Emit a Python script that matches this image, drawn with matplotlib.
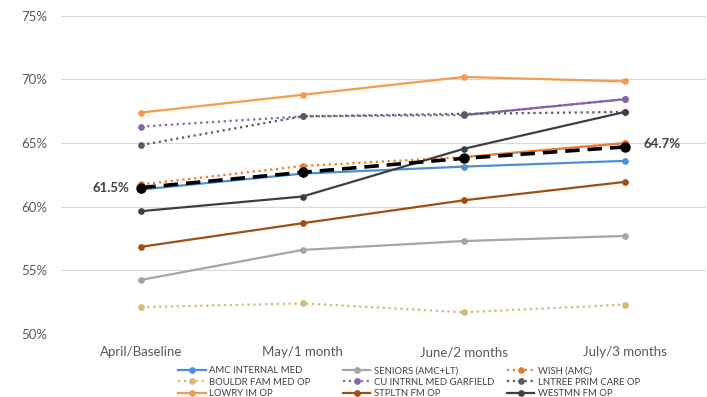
import matplotlib
matplotlib.use("Agg")
import matplotlib.pyplot as plt
from matplotlib.ticker import FuncFormatter

plt.rcParams['font.family'] = ['Lato', 'DejaVu Sans']

# months on the x axis
months = ["April/Baseline", "May/1 month", "June/2 months", "July/3 months"]

# clinic rates (%)
amc_internal_med = [61.35, 62.6, 63.15, 63.6]
seniors = [54.25, 56.6, 57.3, 57.7]
wish = [61.75, 63.2, 63.9, 65.0]
bouldr_fam_med = [52.1, 52.4, 51.7, 52.3]
cu_intrnl_med = [66.3, 67.1, 67.2, 68.45]
lntree_prim_care = [64.85, 67.1, 67.3, 67.45]
lowry_im = [67.4, 68.8, 70.2, 69.85]
stpltn_fm = [56.85, 58.7, 60.5, 61.95]
westmn_fm = [59.65, 60.8, 64.55, 67.45]
average = [61.5, 62.7, 63.8, 64.7]

names = ["AMC INTERNAL MED", "SENIORS (AMC+LT)", "WISH (AMC)",
         "BOULDR FAM MED OP", "CU INTRNL MED GARFIELD", "LNTREE PRIM CARE OP",
         "LOWRY IM OP", "STPLTN FM OP", "WESTMN FM OP"]
series = [amc_internal_med, seniors, wish, bouldr_fam_med, cu_intrnl_med,
          lntree_prim_care, lowry_im, stpltn_fm, westmn_fm]

# colour, line style, last segment drawn solid
styles = {
    "AMC INTERNAL MED": ("#4A8FD8", "-", False),
    "SENIORS (AMC+LT)": ("#A5A5A5", "-", False),
    "WISH (AMC)": ("#EE7B2C", ":", True),
    "BOULDR FAM MED OP": ("#D4B877", ":", False),
    "CU INTRNL MED GARFIELD": ("#8465A8", ":", True),
    "LNTREE PRIM CARE OP": ("#5A5A5A", ":", False),
    "LOWRY IM OP": ("#F79A4C", "-", False),
    "STPLTN FM OP": ("#A04D0E", "-", False),
    "WESTMN FM OP": ("#3F3F3F", "-", False),
}

fig = plt.figure(figsize=(7.07, 3.97), dpi=100)
ax = fig.add_axes([0.086, 0.159, 0.912, 0.801])

x = list(range(len(months)))
handles = {}
for name, vals in zip(names, series):
    color, ls, solid_end = styles[name]
    h, = ax.plot(x, vals, color=color, ls=ls, lw=1.6, marker="o", ms=3.8,
                 label=name, zorder=3)
    if solid_end:
        ax.plot(x[-2:], vals[-2:], color=color, ls="-", lw=1.6, marker="o",
                ms=3.8, zorder=3)
    handles[name] = h

avg_h, = ax.plot(x, average, color="black", ls=(0, (4, 2.2)), lw=2.6,
                 marker="o", ms=6.5, zorder=4)

ax.annotate(f"{average[0]:.1f}%", (x[0], average[0]), xytext=(-9, 0),
            textcoords="offset points", ha="right", va="center",
            fontsize=9.5, fontweight="bold", color="#404040")
ax.annotate(f"{average[-1]:.1f}%", (x[-1], average[-1]), xytext=(13, 2),
            textcoords="offset points", ha="left", va="center",
            fontsize=9.5, fontweight="bold", color="#404040")

ax.set_xlim(-0.5, 3.5)
ax.set_ylim(50, 75)
ax.set_yticks([50, 55, 60, 65, 70, 75])
ax.yaxis.set_major_formatter(FuncFormatter(lambda v, p: f"{v:.0f}%"))
ax.set_xticks(x)
ax.set_xticklabels(months)
ax.tick_params(axis="both", length=0, labelsize=9.5, colors="#595959")
ax.tick_params(axis="y", pad=10)
ax.tick_params(axis="x", pad=9)
ax.grid(axis="y", color="#D9D9D9", lw=0.8)
ax.set_axisbelow(True)
for s in ax.spines.values():
    s.set_visible(False)

# legend, one column at a time; the fourth row (average) runs off the bottom
columns = [
    ([handles["AMC INTERNAL MED"], handles["BOULDR FAM MED OP"],
      handles["LOWRY IM OP"], avg_h], 0.252),
    ([handles["SENIORS (AMC+LT)"], handles["CU INTRNL MED GARFIELD"],
      handles["STPLTN FM OP"]], 0.485),
    ([handles["WISH (AMC)"], handles["LNTREE PRIM CARE OP"],
      handles["WESTMN FM OP"]], 0.717),
]
for hs, xpos in columns:
    labels = [h.get_label() if not h.get_label().startswith("_") else " "
              for h in hs]
    fig.legend(handles=hs, labels=labels,
               loc="upper left", bbox_to_anchor=(xpos, 0.077),
               frameon=False, fontsize=6.8, labelcolor="#404040",
               handlelength=2.9, handletextpad=0.35, labelspacing=0.24,
               borderpad=0, borderaxespad=0)

fig.savefig("out.png", dpi=100)
